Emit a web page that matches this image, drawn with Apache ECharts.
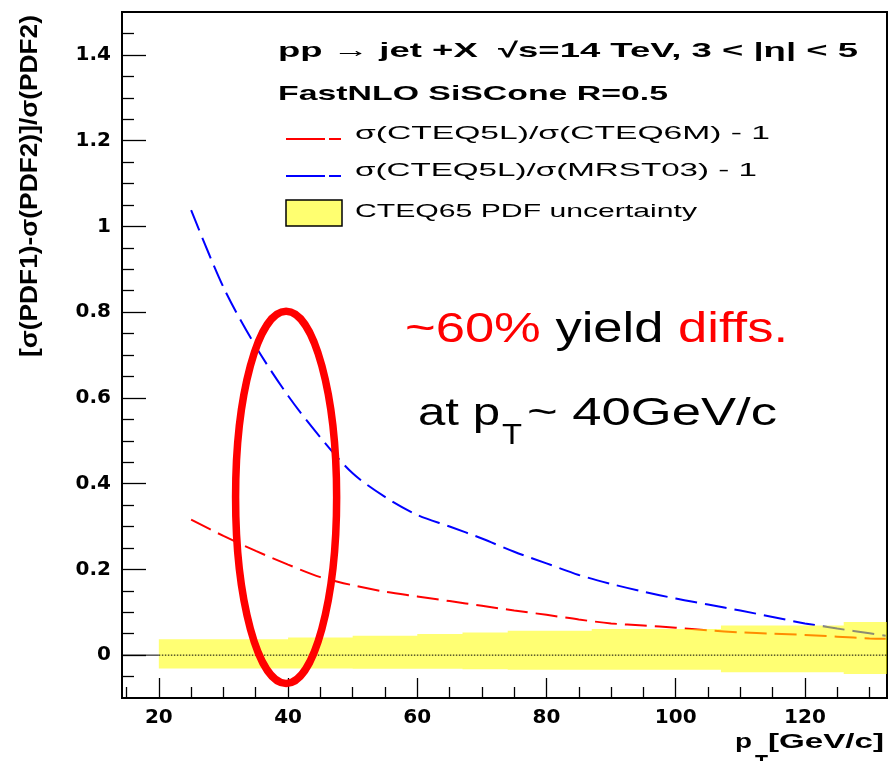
<!DOCTYPE html>
<html><head><meta charset="utf-8">
<script src="https://cdn.jsdelivr.net/npm/echarts@6/dist/echarts.min.js"></script>
<style>html,body{margin:0;padding:0;background:#fff}#c{width:892px;height:761px}</style>
</head><body><div id="c"></div>
<script>
// ---- data ----
const ptValues   = [25,30,35,40,45,50,55,60,65,70,75,80,85,90,95,100,105,110,115,120,125,130,132.5];
const redValues  = [0.316,0.278,0.243,0.211,0.182,0.163,0.148,0.137,0.126,0.115,0.104,0.094,0.083,0.074,0.069,0.064,0.058,0.053,0.050,0.047,0.043,0.039,0.038];
const blueValues = [1.038,0.858,0.720,0.605,0.508,0.424,0.369,0.327,0.300,0.272,0.241,0.214,0.187,0.166,0.148,0.132,0.118,0.104,0.089,0.074,0.062,0.051,0.045];
const bandEdges  = [20,40,50,60,67,74,87,107,126,132.7];
const bandUpper  = [0.037,0.041,0.045,0.049,0.053,0.057,0.061,0.069,0.077];
const bandLower  = [-0.031,-0.031,-0.032,-0.032,-0.033,-0.034,-0.034,-0.040,-0.044];
const xRange = [14.3, 132.7];
const yRange = [-0.1, 1.5];
const xMajorTicks = [20,40,60,80,100,120];
const xMinorTicks = [15,25,30,35,45,50,55,65,70,75,85,90,95,105,110,115,125,130];
const yMajorTicks = [0,0.2,0.4,0.6,0.8,1,1.2,1.4];
const yMinorTicks = [-0.05,0.05,0.1,0.15,0.25,0.3,0.35,0.45,0.5,0.55,0.65,0.7,0.75,0.85,0.9,0.95,1.05,1.1,1.15,1.25,1.3,1.35,1.45];
const ellipseSpec = [39.7, 0.368, 7.82, 0.434]; // centre x, centre y, half-width, half-height (data units)
const legendLabels = ['σ(CTEQ5L)/σ(CTEQ6M) - 1', 'σ(CTEQ5L)/σ(MRST03) - 1', 'CTEQ65 PDF uncertainty'];
const headerLines = ['pp → jet +X  √s=14 TeV, 3 < |η| < 5', 'FastNLO SiSCone R=0.5'];
const yTitle = '[σ(PDF1)-σ(PDF2)]/σ(PDF2)';
const xTitleParts = ['p', 'T', '[GeV/c]'];

// ---- helpers ----
const mctx = document.createElement('canvas').getContext('2d');
function fitScale(text, font, width) { mctx.font = font; return width / mctx.measureText(text).width; }
const HFONT = 'bold 21px "Liberation Sans"';
const LFONT = '19px "Liberation Sans"';
const AFONT1 = '42px "Liberation Sans"';
const AFONT2 = '38px "Liberation Sans"';
const TFONT = '30px "Liberation Sans"';
const YFONT = 'bold 23px "Liberation Sans"';
const XFONT = 'bold 21px "Liberation Sans"';
const TICKFONT = 'DejaVu Sans';

function txt(text, font, x, y, width, fill, extra) {
  return Object.assign({
    type: 'text', x: x, y: y, scaleX: fitScale(text, font, width),
    style: { text: text, font: font, fill: fill || '#000', align: 'left', verticalAlign: 'middle' }
  }, extra || {});
}

const chart = echarts.init(document.getElementById('c'), null, { renderer: 'canvas' });

const ann1 = '~60% yield diffs.';
const graphics = [
  txt(headerLines[0], HFONT, 278, 51.7, 580),
  txt(headerLines[1], HFONT, 278, 94.2, 390),
  { type: 'line', shape: { x1: 286, y1: 139, x2: 341, y2: 139 }, style: { stroke: '#ff0000', lineWidth: 2, lineDash: [39, 4] } },
  { type: 'line', shape: { x1: 286, y1: 176, x2: 341, y2: 176 }, style: { stroke: '#0000ff', lineWidth: 2, lineDash: [39, 4] } },
  { type: 'rect', shape: { x: 286, y: 200, width: 56, height: 26 }, style: { fill: '#ffff70', stroke: '#000', lineWidth: 1.5 } },
  txt(legendLabels[0], LFONT, 355, 134, 415),
  txt(legendLabels[1], LFONT, 355, 171, 402),
  txt(legendLabels[2], LFONT, 355, 212, 342),
  {
    type: 'text', x: 405, y: 330, scaleX: fitScale(ann1, AFONT1, 383),
    style: {
      text: '{r|~60%} {k|yield} {r|diffs.}', font: AFONT1, fill: '#000', align: 'left', verticalAlign: 'middle',
      rich: { r: { fill: '#ff0000', font: AFONT1 }, k: { fill: '#000', font: AFONT1 } }
    }
  },
  txt('at p', AFONT2, 418, 415, 82),
  txt('T', TFONT, 502, 436, 20),
  txt('~ 40GeV/c', AFONT2, 527, 415, 250),
  txt(yTitle, YFONT, 31, 357, 342, '#000', { rotation: Math.PI / 2 }),
  txt(xTitleParts[0], XFONT, 735, 742, 17),
  txt(xTitleParts[1], XFONT, 755, 763, 13),
  txt(xTitleParts[2], XFONT, 768, 742, 116)
];

const option = {
  animation: false,
  backgroundColor: '#fff',
  grid: { left: 122, right: 5, top: 12, bottom: 63, containLabel: false, outerBoundsMode: 'none',
          show: true, borderColor: '#000', borderWidth: 2, backgroundColor: '#fff' },
  xAxis: [
    {
      type: 'value', min: xRange[0], max: xRange[1],
      axisLine: { show: true, onZero: false, lineStyle: { color: '#000', width: 2 } },
      axisTick: { show: true, inside: true, length: 20, customValues: xMajorTicks, lineStyle: { color: '#000', width: 1.3 } },
      axisLabel: { show: true, customValues: xMajorTicks, margin: 10, color: '#000', fontFamily: TICKFONT, fontWeight: 'bold', fontSize: 20 },
      splitLine: { show: false }
    },
    {
      type: 'value', min: xRange[0], max: xRange[1], position: 'bottom',
      axisLine: { show: false, onZero: false },
      axisTick: { show: true, inside: true, length: 11, customValues: xMinorTicks, lineStyle: { color: '#000', width: 1.3 } },
      axisLabel: { show: false },
      splitLine: { show: false }
    }
  ],
  yAxis: [
    {
      type: 'value', min: yRange[0], max: yRange[1],
      axisLine: { show: true, onZero: false, lineStyle: { color: '#000', width: 2 } },
      axisTick: { show: true, inside: true, length: 24, customValues: yMajorTicks, lineStyle: { color: '#000', width: 1.3 } },
      axisLabel: { show: true, customValues: yMajorTicks, margin: 11, color: '#000', fontFamily: TICKFONT, fontWeight: 'bold', fontSize: 20 },
      splitLine: { show: false }
    },
    {
      type: 'value', min: yRange[0], max: yRange[1], position: 'left',
      axisLine: { show: false, onZero: false },
      axisTick: { show: true, inside: true, length: 12, customValues: yMinorTicks, lineStyle: { color: '#000', width: 1.3 } },
      axisLabel: { show: false },
      splitLine: { show: false }
    }
  ],
  series: [
    {
      name: legendLabels[0], type: 'line', smooth: 0.3, showSymbol: false, z: 2,
      data: ptValues.map((x, i) => [x, redValues[i]]),
      lineStyle: { color: '#ff0000', width: 2, type: [22, 8] }
    },
    {
      name: legendLabels[1], type: 'line', smooth: 0.3, showSymbol: false, z: 2,
      data: ptValues.map((x, i) => [x, blueValues[i]]),
      lineStyle: { color: '#0000ff', width: 2, type: [22, 8] }
    },
    {
      name: legendLabels[2], type: 'custom', z: 3, silent: true,
      data: [[bandEdges[0], 0]],
      renderItem: function (params, api) {
        const top = [], bot = [];
        for (let i = 0; i < bandUpper.length; i++) {
          top.push(api.coord([bandEdges[i], bandUpper[i]]));
          top.push(api.coord([bandEdges[i + 1], bandUpper[i]]));
          bot.push(api.coord([bandEdges[i], bandLower[i]]));
          bot.push(api.coord([bandEdges[i + 1], bandLower[i]]));
        }
        const pts = top.concat(bot.reverse());
        return { type: 'polygon', shape: { points: pts }, style: { fill: 'rgba(255,255,0,0.55)' } };
      }
    },
    {
      type: 'line', z: 4, showSymbol: false, silent: true,
      data: [[bandEdges[0], 0], [xRange[1], 0]],
      lineStyle: { color: '#000', width: 1, type: [1.5, 1.5] }
    },
    {
      type: 'line', z: 4, showSymbol: false, silent: true,
      data: [[xRange[0], 0], [bandEdges[0], 0]],
      lineStyle: { color: '#000', width: 1 }
    },
    {
      type: 'custom', z: 10, silent: true, clip: false,
      data: [ellipseSpec],
      renderItem: function (params, api) {
        const c = api.coord([api.value(0), api.value(1)]);
        const s = api.size([api.value(2), api.value(3)]);
        return { type: 'ellipse', shape: { cx: c[0], cy: c[1], rx: s[0], ry: s[1] }, style: { fill: 'none', stroke: '#ff0000', lineWidth: 7.5 } };
      }
    }
  ],
  graphic: { elements: graphics }
};
chart.setOption(option);
</script>
</body></html>
